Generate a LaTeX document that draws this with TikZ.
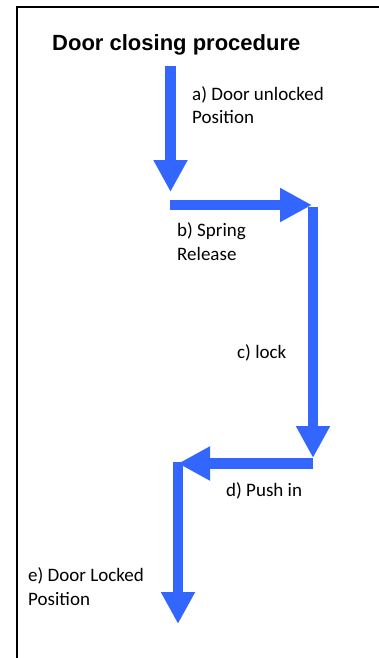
\documentclass[tikz,border=0pt]{standalone}
\usepackage{fontspec}
\setmainfont{Carlito}
\newfontfamily\titlefont{Liberation Sans}
\usetikzlibrary{arrows.meta}
\definecolor{flowblue}{RGB}{51,102,255}
\tikzset{
  flowarrow/.style={draw=flowblue, line width=10.5pt, line cap=butt,
    -{Triangle[width=32pt,length=32pt]}},
  steplabel/.style={inner sep=0pt, anchor=base west, align=left,
    font=\fontsize{19pt}{23.5pt}\selectfont},
  frameline/.style={draw=black, line width=1.5pt}
}
\begin{document}
\begin{tikzpicture}[x=1pt,y=-1pt]
\useasboundingbox (0,0) rectangle (379,658);
% frame (partially visible)
\coordinate (fbl) at (17,660);
\coordinate (ftl) at (17,7);
\coordinate (ftr) at (381,7);
\draw[frameline] (fbl) -- (ftl) -- (ftr);
% title
\node[inner sep=0pt, anchor=base west, font=\titlefont\bfseries\fontsize{22pt}{26pt}\selectfont] (title) at (52,50.5) {Door closing procedure};
% arrow end points
\coordinate (a0) at (170.5,66);
\coordinate (a1) at (170.5,192);
\coordinate (b0) at (170,205);
\coordinate (b1) at (312,205);
\coordinate (c0) at (313,207);
\coordinate (c1) at (313,458);
\coordinate (d0) at (313,463.5);
\coordinate (d1) at (178,463.5);
\coordinate (e0) at (178,462);
\coordinate (e1) at (178,624);
\draw[flowarrow] (a0) -- (a1);
\draw[flowarrow] (b0) -- (b1);
\draw[flowarrow] (c0) -- (c1);
\draw[flowarrow] (d0) -- (d1);
\draw[flowarrow] (e0) -- (e1);
% labels (base anchor = baseline of last line)
\node[steplabel] (la) at (192,124) {a) Door unlocked\\Position};
\node[steplabel] (lb) at (177,260) {b) Spring\\Release};
\node[steplabel] (lc) at (237,358) {c) lock};
\node[steplabel] (ld) at (226,496) {d) Push in};
\node[steplabel] (le) at (28,605) {e) Door Locked\\Position};
\end{tikzpicture}
\end{document}
